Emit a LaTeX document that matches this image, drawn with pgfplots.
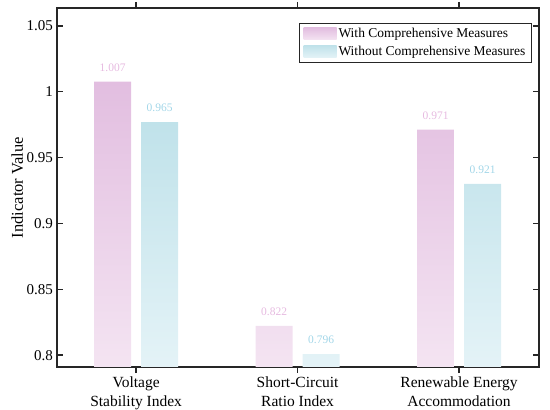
\documentclass[border=0pt]{standalone}
\usepackage{fontspec}
\setmainfont{Liberation Serif}
\usepackage{pgfplots}
\pgfplotsset{compat=1.18}
\definecolor{pinkTop}{RGB}{226,190,224}
\definecolor{pinkBot}{RGB}{244,228,242}
\definecolor{cyanTop}{RGB}{192,226,234}
\definecolor{cyanBot}{RGB}{228,243,247}
\definecolor{pinkLab}{RGB}{230,186,224}
\definecolor{cyanLab}{RGB}{162,214,232}
\begin{document}
\begin{tikzpicture}
\begin{axis}[
  scale only axis,
  width=482bp, height=359bp,
  xmin=-0.49, xmax=2.495,
  ymin=0.791, ymax=1.0636,
  xtick={0,1,2},
  xticklabels={{Voltage\\Stability Index},{Short-Circuit\\Ratio Index},{Renewable Energy\\Accommodation}},
  xticklabel style={align=center, font=\fontsize{15.5bp}{19bp}\selectfont, inner sep=0pt, yshift=-4bp},
  ytick={0.8,0.85,0.9,0.95,1,1.05},
  yticklabels={0.8,0.85,0.9,0.95,1,1.05},
  /pgf/number format/assume math mode=true,
  yticklabel style={font=\fontsize{15bp}{17bp}\selectfont, inner sep=0pt, xshift=-4bp},
  ylabel={Indicator Value},
  ylabel style={font=\fontsize{16.5bp}{19bp}\selectfont},
  tick align=inside,
  major tick length=6bp,
  every tick/.style={black!85, line width=1.4bp},
  axis line style={black!85, line width=1.6bp},
  ybar,
  bar width=37bp,
  nodes near coords,
  point meta=explicit symbolic,
  every node near coord/.append style={font=\fontsize{11.5bp}{13bp}\selectfont, inner sep=0pt, anchor=south, yshift=10bp},
  legend style={at={(1,1)}, anchor=north east, xshift=-7bp, yshift=-15bp,
    draw=black!85, line width=1.1bp, font=\fontsize{13.5bp}{16bp}\selectfont,
    inner xsep=4bp, inner ysep=3bp, row sep=3bp, cells={anchor=west}},
  legend image code/.code={\path[#1, draw=none] (0bp,-6bp) rectangle (33bp,6bp);},
]
\addplot[bar shift=-23.5bp, draw=none, top color=pinkTop, bottom color=pinkBot,
  every node near coord/.append style={text=pinkLab}]
  coordinates {(0,1.0076)[1.007] (1,0.8222)[0.822] (2,0.9712)[0.971]};
\addlegendentry{With Comprehensive Measures}
\addplot[bar shift=23.5bp, draw=none, top color=cyanTop, bottom color=cyanBot,
  every node near coord/.append style={text=cyanLab}]
  coordinates {(0,0.977)[0.965] (1,0.8008)[0.796] (2,0.930)[0.921]};
\addlegendentry{Without Comprehensive Measures}
\end{axis}
\pgfresetboundingbox
\path (current axis.south west) ++(-57bp,-43bp) rectangle ++(550bp,410bp);
\end{tikzpicture}
\end{document}
